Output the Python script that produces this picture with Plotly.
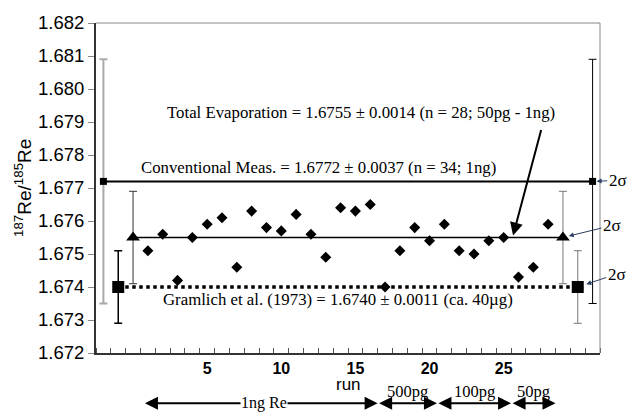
import plotly.graph_objects as go

# ---- data ----
runs = list(range(1, 29))
ratios = [1.6751, 1.6756, 1.6742, 1.6755, 1.6759, 1.6761, 1.6746, 1.6763, 1.6758, 1.6757,
          1.6762, 1.6756, 1.6749, 1.6764, 1.6763, 1.6765, 1.6740, 1.6751, 1.6758, 1.6754,
          1.6759, 1.6751, 1.6750, 1.6754, 1.6755, 1.6743, 1.6746, 1.6759]

conv_mean, conv_2s, conv_pos = 1.6772, 0.0037, [-2, 31]
te_mean, te_2s, te_pos = 1.6755, 0.0014, [0, 29]
gram_mean, gram_2s, gram_pos = 1.6740, 0.0011, [-1, 30]

tick_vals = [5, 10, 15, 20, 25]
tick_text = ["5", "10", "15", "20", "25"]

groups = ["1ng Re", "500pg", "100pg", "50pg"]
group_bounds = [0.7, 16.5, 20.5, 25.5, 28.5]

SERIF = "Liberation Serif"
SANS = "Liberation Sans"

fig = go.Figure()

# reference lines
fig.add_trace(go.Scatter(x=conv_pos, y=[conv_mean] * 2, mode="lines",
                         line=dict(color="black", width=2), hoverinfo="skip"))
fig.add_trace(go.Scatter(x=te_pos, y=[te_mean] * 2, mode="lines",
                         line=dict(color="black", width=1.5), hoverinfo="skip"))
fig.add_trace(go.Scatter(x=gram_pos, y=[gram_mean] * 2, mode="lines",
                         line=dict(color="black", width=3.5, dash="dot"), hoverinfo="skip"))

# error-bar markers
def ebar(x, y, e, symbol, size, color, thick, width):
    fig.add_trace(go.Scatter(x=[x], y=[y], mode="markers",
                             marker=dict(symbol=symbol, size=size, color="black"),
                             error_y=dict(type="data", array=[e], color=color,
                                          thickness=thick, width=width)))

ebar(conv_pos[0], conv_mean, conv_2s, "square", 7, "#aaaaaa", 2, 4)
ebar(conv_pos[1], conv_mean, conv_2s, "square", 7, "black", 1, 4)
ebar(gram_pos[0], gram_mean, gram_2s, "square", 12, "black", 1.5, 4)
ebar(gram_pos[1], gram_mean, gram_2s, "square", 12, "#777777", 1, 4)
ebar(te_pos[0], te_mean, te_2s, "triangle-up", 12, "#333333", 1, 4)
ebar(te_pos[1], te_mean, te_2s, "triangle-up", 12, "#777777", 1, 4)

# individual runs
fig.add_trace(go.Scatter(x=runs, y=ratios, mode="markers",
                         marker=dict(symbol="diamond", size=8.5, color="black")))

ann = []
tf = dict(family=SERIF, size=16.8, color="black")
ann.append(dict(x=15.41, y=1.67928, xref="x", yref="y", showarrow=False,
                text="Total Evaporation = 1.6755 ± 0.0014 (n = 28; 50pg - 1ng)", font=tf))
ann.append(dict(x=12.51, y=1.67763, xref="x", yref="y", showarrow=False,
                text="Conventional Meas. = 1.6772 ± 0.0037 (n = 34; 1ng)", font=tf))
ann.append(dict(x=13.83, y=1.67363, xref="x", yref="y", showarrow=False,
                text="Gramlich et al. (1973) = 1.6740 ± 0.0011 (ca. 40µg)", font=tf))
# arrow to total evaporation line
ann.append(dict(x=25.6, y=te_mean, xref="x", yref="y", text="", showarrow=True,
                ax=29, ay=-109, arrowhead=2, arrowsize=1.3, arrowwidth=2, arrowcolor="black",
                standoff=2))
# 2 sigma labels
sf = dict(family=SERIF, size=17, color="black")
ann.append(dict(x=conv_pos[1], y=conv_mean, xref="x", yref="y", text="2σ", showarrow=True,
                ax=25, ay=-1, arrowhead=2, arrowsize=1, arrowwidth=1, standoff=4, font=sf))
ann.append(dict(x=te_pos[1], y=te_mean, xref="x", yref="y", text="2σ", showarrow=True,
                ax=49, ay=-12, arrowhead=2, arrowsize=1, arrowwidth=1, standoff=6, font=sf))
ann.append(dict(x=gram_pos[1], y=gram_mean, xref="x", yref="y", text="2σ", showarrow=True,
                ax=39, ay=-13, arrowhead=2, arrowsize=1, arrowwidth=1, standoff=9, font=sf))

# y-axis title
ann.append(dict(x=-0.145, y=0.5, xref="paper", yref="paper", showarrow=False, textangle=-90,
                xanchor="center", yanchor="middle",
                text="<sup>187</sup>Re/<sup>185</sup>Re", font=dict(family=SANS, size=19, color="black")))
# run label
ann.append(dict(x=14.5, y=-0.094, xref="x", yref="paper", showarrow=False, text="run",
                xanchor="center", yanchor="middle",
                font=dict(family=SANS, size=17, color="black")))

# group arrows
ay_paper = -0.152
for i, g in enumerate(groups):
    x0, x1 = group_bounds[i], group_bounds[i + 1]
    ann.append(dict(x=x1, y=ay_paper, xref="x", yref="paper", ax=x0, ay=0,
                    axref="x", ayref="pixel", text="", showarrow=True, arrowside="end+start",
                    arrowhead=2, arrowsize=1.3, arrowwidth=2, arrowcolor="black",
                    standoff=0, startstandoff=0))
    if i == 0:
        ann.append(dict(x=8.8, y=ay_paper, xref="x", yref="paper", showarrow=False, text=g,
                        xanchor="center", yanchor="middle", bgcolor="white", borderpad=0,
                        font=dict(family=SERIF, size=16, color="black")))
    else:
        ann.append(dict(x=(x0 + x1) / 2, y=-0.118, xref="x", yref="paper", showarrow=False,
                        xanchor="center", yanchor="middle",
                        text=g, font=dict(family=SERIF, size=16.5, color="black")))

fig.update_layout(
    width=628, height=412,
    margin=dict(l=96, r=28, t=19, b=59),
    paper_bgcolor="white", plot_bgcolor="white",
    showlegend=False,
    annotations=ann,
    shapes=[
        dict(type="line", xref="paper", yref="paper", x0=0, x1=1, y0=1, y1=1,
             line=dict(color="#888888", width=1)),
        dict(type="line", xref="paper", yref="paper", x0=1, x1=1, y0=0, y1=1,
             line=dict(color="#888888", width=1)),
    ],
    xaxis=dict(range=[-2.5, 31.5], tickmode="array", tickvals=tick_vals, ticktext=tick_text,
               ticks="", showgrid=False, zeroline=False,
               showline=True, linecolor="#333333", linewidth=2,
               tickfont=dict(family=SANS, size=16, color="black", weight="bold"),
               minor=dict(tick0=0.5, dtick=1, ticks="inside", ticklen=5,
                          tickcolor="#555555", showgrid=False)),
    yaxis=dict(range=[1.672, 1.682], dtick=0.001, tick0=1.672, tickformat=".3f",
               ticks="outside", ticklen=6, tickcolor="#888888",
               showgrid=False, zeroline=False,
               showline=True, linecolor="#333333", linewidth=2,
               tickfont=dict(family=SANS, size=18.5, color="black")),
)

fig.write_html("out.html", config={"displayModeBar": False},
               post_script="document.body.style.margin='0px';document.body.style.padding='0px';")
